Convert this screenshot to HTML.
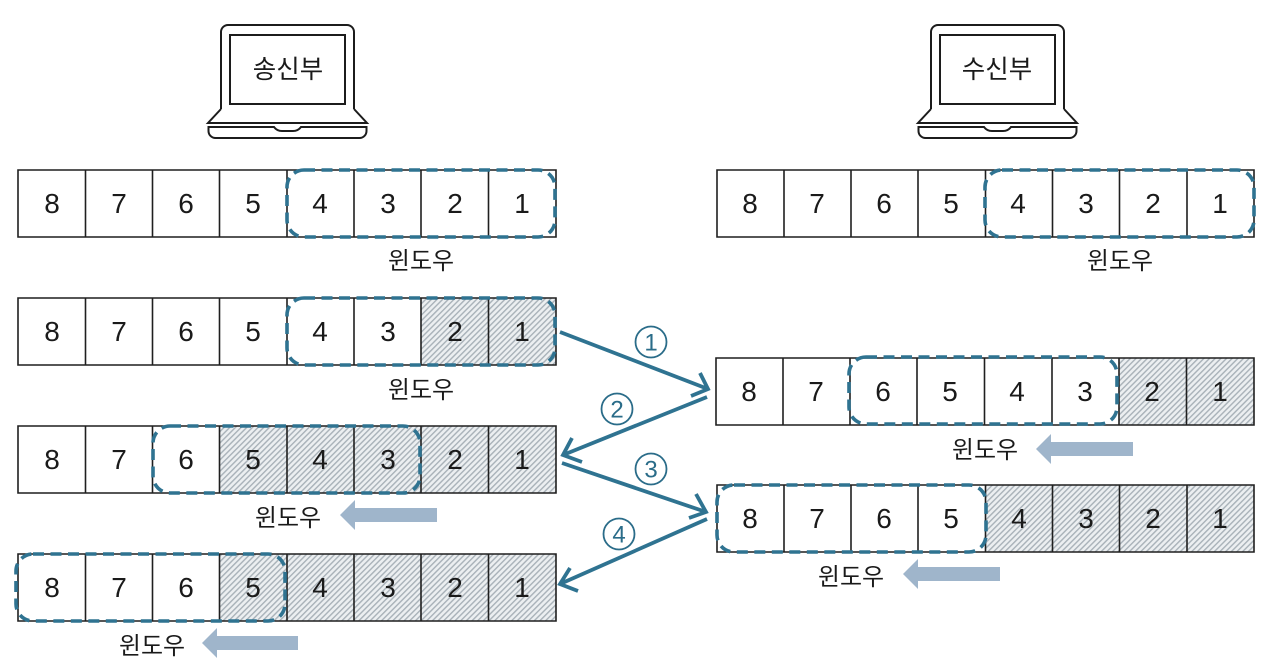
<!DOCTYPE html>
<html><head><meta charset="utf-8"><style>
html,body{margin:0;padding:0;background:#fff}
svg{display:block}
text{font-family:"Liberation Sans","Noto Sans CJK KR",sans-serif;fill:#1a1a1a;text-anchor:middle}
.d{font-size:28px}
.l{font-size:24px}
.t{font-size:25.500px}
.c{font-size:24px;fill:#2a6c89}
.g{fill:none;stroke:#1f1f1f;stroke-width:1.6}
.h{fill:url(#hatch);stroke:none}
.w{fill:none;stroke:#2f7391;stroke-width:3.6;stroke-dasharray:11 6.500}
.a{fill:none;stroke:#2f7391;stroke-width:3.800}
.b{fill:#9fb5cb}
.p{fill:#fff;stroke:#1c1c1c;stroke-width:2}
.ci{fill:none;stroke:#2a6c89;stroke-width:1.8}
</style></head><body>
<svg width="1280" height="660" viewBox="0 0 1280 660" xmlns="http://www.w3.org/2000/svg">
<defs>
<pattern id="hatch" width="4" height="4" patternUnits="userSpaceOnUse" patternTransform="rotate(45)">
<rect width="4" height="4" fill="#eceff1"/><rect width="1.4" height="4" fill="#a8b1b8"/>
</pattern>
</defs>
<rect width="1280" height="660" fill="#fff"/>

<!-- laptops -->
<g>
<path class="p" d="M221 109V32a7 7 0 0 1 7-7H347a7 7 0 0 1 7 7V109" />
<rect class="p" x="230" y="35" width="115" height="69" stroke-width="2.4"/>
<path class="p" d="M221 109L208 123H367L354 109" />
<path class="p" d="M208.500 127H274q3 4 8 4H293q5 0 8-4H366.500V131a7 7 0 0 1-7 7H215.500a7 7 0 0 1-7-7Z"/>
</g>
<g transform="translate(710 0)">
<path class="p" d="M221 109V32a7 7 0 0 1 7-7H347a7 7 0 0 1 7 7V109" />
<rect class="p" x="230" y="35" width="115" height="69" stroke-width="2.4"/>
<path class="p" d="M221 109L208 123H367L354 109" />
<path class="p" d="M208.500 127H274q3 4 8 4H293q5 0 8-4H366.500V131a7 7 0 0 1-7 7H215.500a7 7 0 0 1-7-7Z"/>
</g>
<text class="t" x="288" y="78">송신부</text>
<text class="t" x="997" y="78">수신부</text>

<!-- hatches -->
<rect class="h" x="421" y="298" width="135" height="67"/>
<rect class="h" x="220" y="426" width="336" height="67"/>
<rect class="h" x="220" y="554" width="336" height="67"/>
<rect class="h" x="1119" y="358" width="135" height="67"/>
<rect class="h" x="986" y="485" width="268" height="67"/>

<!-- grids -->
<path class="g" d="M18 170H556V237H18ZM85.500 170V237M152.500 170V237M219.500 170V237M287 170V237M354 170V237M421 170V237M488.500 170V237"/>
<path class="g" d="M18 298H556V365H18ZM85.500 298V365M152.500 298V365M219.500 298V365M287 298V365M354 298V365M421 298V365M488.500 298V365"/>
<path class="g" d="M18 426H556V493H18ZM85.500 426V493M152.500 426V493M219.500 426V493M287 426V493M354 426V493M421 426V493M488.500 426V493"/>
<path class="g" d="M18 554H556V621H18ZM85.500 554V621M152.500 554V621M219.500 554V621M287 554V621M354 554V621M421 554V621M488.500 554V621"/>
<path class="g" d="M717 170H1254V237H717ZM784 170V237M851 170V237M918 170V237M985.500 170V237M1052.500 170V237M1119.500 170V237M1187 170V237"/>
<path class="g" d="M716 358H1254V425H716ZM783 358V425M850 358V425M917 358V425M984.500 358V425M1052 358V425M1119 358V425M1186.500 358V425"/>
<path class="g" d="M717 485H1254V552H717ZM784 485V552M851 485V552M918 485V552M985.500 485V552M1052.500 485V552M1119.500 485V552M1187 485V552"/>

<!-- digits -->
<g class="d">
<text x="52" y="213">8</text><text x="119" y="213">7</text><text x="186" y="213">6</text><text x="253" y="213">5</text><text x="320" y="213">4</text><text x="388" y="213">3</text><text x="455" y="213">2</text><text x="522" y="213">1</text>
<text x="52" y="341">8</text><text x="119" y="341">7</text><text x="186" y="341">6</text><text x="253" y="341">5</text><text x="320" y="341">4</text><text x="388" y="341">3</text><text x="455" y="341">2</text><text x="522" y="341">1</text>
<text x="52" y="469">8</text><text x="119" y="469">7</text><text x="186" y="469">6</text><text x="253" y="469">5</text><text x="320" y="469">4</text><text x="388" y="469">3</text><text x="455" y="469">2</text><text x="522" y="469">1</text>
<text x="52" y="597">8</text><text x="119" y="597">7</text><text x="186" y="597">6</text><text x="253" y="597">5</text><text x="320" y="597">4</text><text x="388" y="597">3</text><text x="455" y="597">2</text><text x="522" y="597">1</text>
<text x="750" y="213">8</text><text x="817" y="213">7</text><text x="884" y="213">6</text><text x="951" y="213">5</text><text x="1018" y="213">4</text><text x="1086" y="213">3</text><text x="1153" y="213">2</text><text x="1220" y="213">1</text>
<text x="749" y="401">8</text><text x="816" y="401">7</text><text x="883" y="401">6</text><text x="950" y="401">5</text><text x="1017" y="401">4</text><text x="1085" y="401">3</text><text x="1152" y="401">2</text><text x="1220" y="401">1</text>
<text x="750" y="528">8</text><text x="817" y="528">7</text><text x="884" y="528">6</text><text x="951" y="528">5</text><text x="1019" y="528">4</text><text x="1086" y="528">3</text><text x="1153" y="528">2</text><text x="1220" y="528">1</text>
</g>

<!-- windows -->
<rect class="w" x="287" y="170" width="268" height="67" rx="17"/>
<rect class="w" x="287" y="298" width="268" height="67" rx="17"/>
<rect class="w" x="153" y="426" width="267" height="67" rx="17"/>
<rect class="w" x="16" y="554" width="269" height="67" rx="17"/>
<rect class="w" x="985" y="170" width="269" height="67" rx="17"/>
<rect class="w" x="849" y="357" width="268" height="67" rx="17"/>
<rect class="w" x="717" y="485" width="269" height="67" rx="17"/>

<!-- labels -->
<g class="l">
<text x="421" y="269">윈도우</text>
<text x="421" y="398">윈도우</text>
<text x="288" y="526">윈도우</text>
<text x="152" y="654">윈도우</text>
<text x="1120" y="269">윈도우</text>
<text x="985" y="458">윈도우</text>
<text x="851" y="585">윈도우</text>
</g>

<!-- block arrows -->
<path class="b" d="M202 643L217 628V636H298V650H217V658Z"/>
<path class="b" d="M340 515L355 500V508H437V522H355V530Z"/>
<path class="b" d="M1036 449L1051 434V442H1133V456H1051V464Z"/>
<path class="b" d="M903 574L918 559V567H1000V581H918V589Z"/>

<!-- connectors -->
<path class="a" d="M560 332L708 389M700 373L708 389L691 396"/>
<path class="a" d="M707 397L563 455M572 438L563 455L582 462"/>
<path class="a" d="M562 463L706 512M696 494L706 512L689 518"/>
<path class="a" d="M707 519L560 584M570 568L560 584L578 591"/>

<circle class="ci" cx="651" cy="342" r="15.500"/><text class="c" x="651" y="350.500">1</text>
<circle class="ci" cx="617" cy="409" r="15.500"/><text class="c" x="617" y="417.500">2</text>
<circle class="ci" cx="651" cy="469" r="15.500"/><text class="c" x="651" y="477.500">3</text>
<circle class="ci" cx="619" cy="534" r="15.500"/><text class="c" x="619" y="542.500">4</text>
</svg>
</body></html>
